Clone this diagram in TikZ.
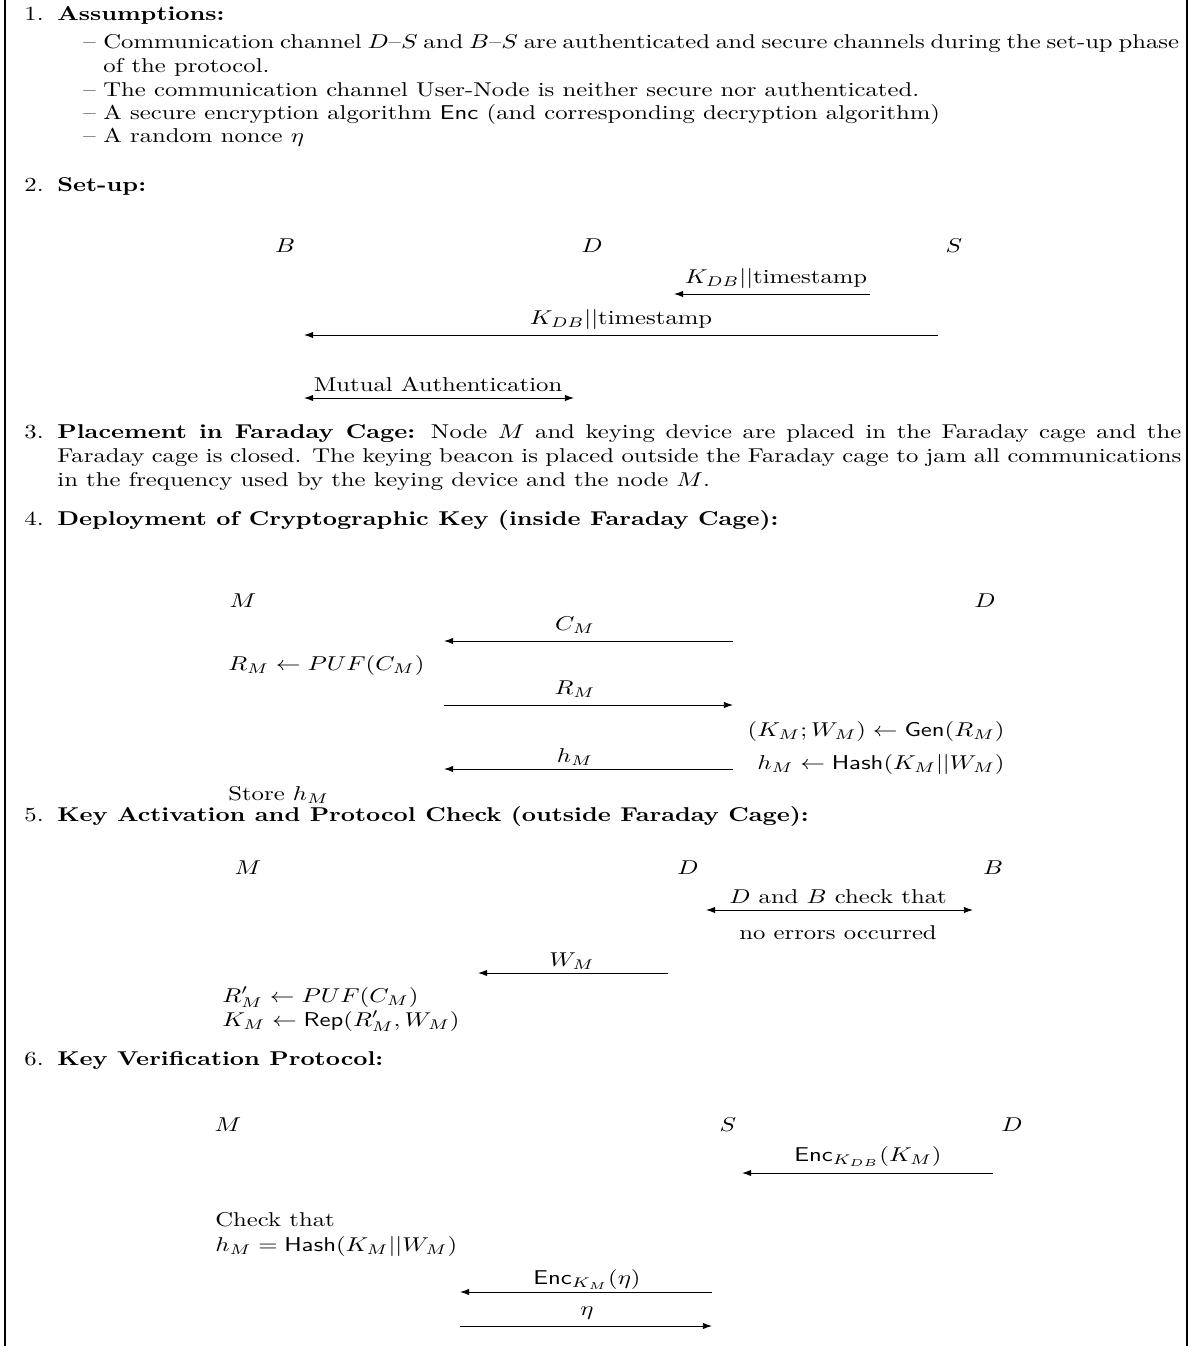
\documentclass[tikz,border=0pt]{standalone}
\usepackage{amsmath}
\usepackage{graphicx}
\usetikzlibrary{arrows.meta}
\newcommand\T[1]{\scalebox{1.235}[1]{#1}}
\begin{document}
\begin{tikzpicture}[x=0.5pt,y=-0.5pt,
  txt/.style={anchor=base west, inner sep=0pt},
  rtxt/.style={anchor=base east, inner sep=0pt},
  lbl/.style={anchor=base, inner sep=0pt},
  party/.style={anchor=base, inner sep=0pt},
  msg/.style={-{Latex[length=4.6pt,width=3.2pt]}, line width=0.45pt},
  dmsg/.style={{Latex[length=4.6pt,width=3.2pt]}-{Latex[length=4.6pt,width=3.2pt]}, line width=0.45pt},
  frame/.style={line width=0.9pt}]
\useasboundingbox (0,0) rectangle (1196,1346);
\coordinate (fl1) at (5,0); \coordinate (fl2) at (5,1346);
\coordinate (fr1) at (1187,0); \coordinate (fr2) at (1187,1346);
\draw[frame] (fl1) -- (fl2);
\draw[frame] (fr1) -- (fr2);

% ---- 1
\node[txt] (n1) at (24,20) {\T{1.}};
\node[txt] (h1) at (57,20) {\T{\textbf{Assumptions:}}};
\node[txt] (d1) at (83,48) {\T{--}};
\node[txt] (b1) at (103,48) {\T{\makebox[435.5pt][s]{Communication channel $D$--$S$ and $B$--$S$ are authenticated and secure channels during the set-up phase}}};
\node[txt] (b1b) at (103,72) {\T{of the protocol.}};
\node[txt] (d2) at (83,96) {\T{--}};
\node[txt] (b2) at (103,96) {\T{The communication channel User-Node is neither secure nor authenticated.}};
\node[txt] (d3) at (83,119) {\T{--}};
\node[txt] (b3) at (103,119) {\T{A secure encryption algorithm \textsf{Enc} (and corresponding decryption algorithm)}};
\node[txt] (d4) at (83,142) {\T{--}};
\node[txt] (b4) at (103,142) {\T{A random nonce $\eta$}};

% ---- 2
\node[txt] (n2) at (24,191) {\T{2.}};
\node[txt] (h2) at (57,191) {\T{\textbf{Set-up:}}};
\node[party] (B2) at (285,252) {\T{$B$}};
\node[party] (D2) at (592,252) {\T{$D$}};
\node[party] (S2) at (954,252) {\T{$S$}};
\coordinate (a1s) at (870,294); \coordinate (a1e) at (674,294);
\draw[msg] (a1s) -- (a1e);
\node[lbl] (l1) at (776,283) {\T{$K_{DB}||$timestamp}};
\coordinate (a2s) at (938,335); \coordinate (a2e) at (304,335);
\draw[msg] (a2s) -- (a2e);
\node[lbl] (l2) at (621,324) {\T{$K_{DB}||$timestamp}};
\coordinate (a3s) at (304,398); \coordinate (a3e) at (574,398);
\draw[dmsg] (a3s) -- (a3e);
\node[lbl] (l3) at (438,391) {\T{Mutual Authentication}};

% ---- 3
\node[txt] (n3) at (24,438) {\T{3.}};
\node[txt] (t3a) at (57,438) {\T{\makebox[455pt][s]{\textbf{Placement in Faraday Cage:} Node $M$ and keying device are placed in the Faraday cage and the}}};
\node[txt] (t3b) at (57,462) {\T{\makebox[455pt][s]{Faraday cage is closed. The keying beacon is placed outside the Faraday cage to jam all communications}}};
\node[txt] (t3c) at (57,486) {\T{in the frequency used by the keying device and the node $M$.}};

% ---- 4
\node[txt] (n4) at (24,525) {\T{4.}};
\node[txt] (h4) at (57,525) {\T{\textbf{Deployment of Cryptographic Key (inside Faraday Cage):}}};
\node[party] (M4) at (243,607) {\T{$M$}};
\node[party] (D4) at (985,607) {\T{$D$}};
\coordinate (c1s) at (733,641); \coordinate (c1e) at (444,641);
\draw[msg] (c1s) -- (c1e);
\node[lbl] (lc1) at (575,630) {\T{$C_M$}};
\node[txt] (p4a) at (228,670) {\T{$R_M \leftarrow PUF(C_M)$}};
\coordinate (c2s) at (444,705); \coordinate (c2e) at (733,705);
\draw[msg] (c2s) -- (c2e);
\node[lbl] (lc2) at (575,694) {\T{$R_M$}};
\node[rtxt] (g4) at (1005,736) {\T{$(K_M;W_M) \leftarrow \mathsf{Gen}(R_M)$}};
\coordinate (c3s) at (733,769); \coordinate (c3e) at (444,769);
\draw[msg] (c3s) -- (c3e);
\node[lbl] (lc3) at (575,762) {\T{$h_M$}};
\node[rtxt] (hs4) at (1005,769) {\T{$h_M \leftarrow \mathsf{Hash}(K_M||W_M)$}};
\node[txt] (st4) at (228,800) {\T{Store $h_M$}};

% ---- 5
\node[txt] (n5) at (24,821) {\T{5.}};
\node[txt] (h5) at (57,821) {\T{\textbf{Key Activation and Protocol Check (outside Faraday Cage):}}};
\node[party] (M5) at (248,874) {\T{$M$}};
\node[party] (D5) at (688,874) {\T{$D$}};
\node[party] (B5) at (993,874) {\T{$B$}};
\coordinate (e1s) at (706,910); \coordinate (e1e) at (973,910);
\draw[dmsg] (e1s) -- (e1e);
\node[lbl] (le1) at (838,903) {\T{$D$ and $B$ check that}};
\node[lbl] (le1b) at (838,939) {\T{no errors occurred}};
\coordinate (e2s) at (668,973); \coordinate (e2e) at (478,973);
\draw[msg] (e2s) -- (e2e);
\node[lbl] (le2) at (572,966) {\T{$W_M$}};
\node[txt] (p5a) at (222,1002) {\T{$R'_M \leftarrow PUF(C_M)$}};
\node[txt] (p5b) at (222,1026) {\T{$K_M \leftarrow \mathsf{Rep}(R'_M, W_M)$}};

% ---- 6
\node[txt] (n6) at (24,1065) {\T{6.}};
\node[txt] (h6) at (57,1065) {\T{\textbf{Key Verification Protocol:}}};
\node[party] (M6) at (228,1131) {\T{$M$}};
\node[party] (S6) at (728,1131) {\T{$S$}};
\node[party] (D6) at (1012,1131) {\T{$D$}};
\coordinate (f1s) at (993,1173); \coordinate (f1e) at (742,1173);
\draw[msg] (f1s) -- (f1e);
\node[lbl] (lf1) at (868,1161) {\T{$\mathsf{Enc}_{K_{DB}}(K_M)$}};
\node[txt] (ck6) at (215,1226) {\T{Check that}};
\node[txt] (ck6b) at (215,1251) {\T{$h_M = \mathsf{Hash}(K_M||W_M)$}};
\coordinate (f2s) at (712,1292); \coordinate (f2e) at (460,1292);
\draw[msg] (f2s) -- (f2e);
\node[lbl] (lf2) at (587,1284) {\T{$\mathsf{Enc}_{K_M}(\eta)$}};
\coordinate (f3s) at (460,1326); \coordinate (f3e) at (712,1326);
\draw[msg] (f3s) -- (f3e);
\node[lbl] (lf3) at (587,1315) {\T{$\eta$}};
\end{tikzpicture}
\end{document}
